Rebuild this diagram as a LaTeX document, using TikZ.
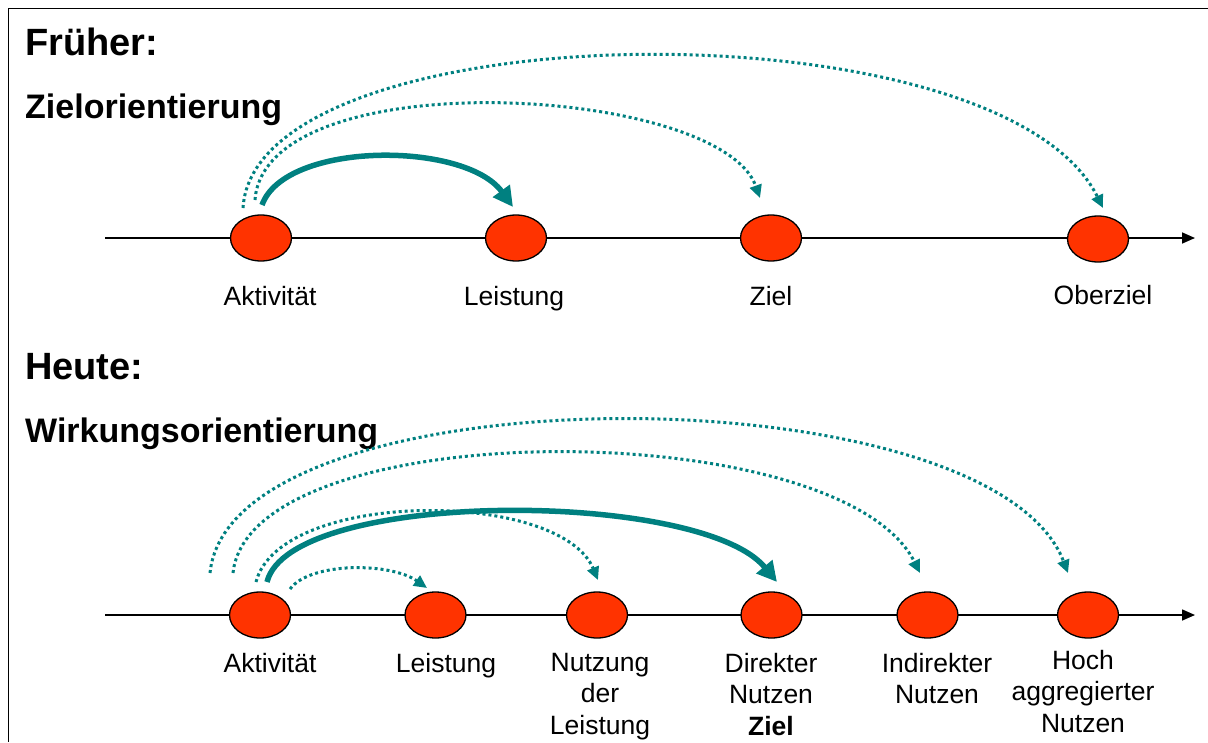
\documentclass[tikz,border=0pt]{standalone}
\usepackage{fontspec}
\setmainfont{Liberation Sans}
\usetikzlibrary{arrows.meta,shapes.geometric}
\definecolor{arcteal}{HTML}{008080}
\definecolor{dotred}{HTML}{FF3300}
\begin{document}
\begin{tikzpicture}[x=1pt,y=-1pt,
 ev/.style={ellipse,draw=black,line width=1.3pt,fill=dotred,minimum width=61pt,minimum height=46pt,inner sep=0pt},
 axisline/.style={line width=1.6pt,-{Triangle[length=13pt,width=11pt]}},
 lbl/.style={font=\fontsize{26.5}{31.5}\selectfont,align=center,anchor=north,inner sep=0pt},
 hdr/.style={font=\fontsize{38}{44}\selectfont\bfseries,anchor=base west,inner sep=0pt},
 subhdr/.style={font=\fontsize{34}{40}\selectfont\bfseries,anchor=base west,inner sep=0pt},
 dotarc/.style={draw=arcteal,line width=3pt,dash pattern=on 3pt off 3pt,-{Triangle[length=13pt,width=12pt,fill=arcteal]}},
 solidarc/.style={draw=arcteal,line width=5.5pt,-{Triangle[length=20pt,width=20pt,fill=arcteal]}},
 frameline/.style={line width=1.5pt,draw=black}
]
\useasboundingbox (0,0) rectangle (1208,742);
% frame
\coordinate (fr1) at (1208,8.5);
\coordinate (fr2) at (8.5,8.5);
\coordinate (fr3) at (8.5,742);
\draw[frameline] (fr1) -- (fr2) -- (fr3);

% headings
\node[hdr] (h1) at (25,55) {Früher:};
\node[subhdr] (h2) at (25,118) {Zielorientierung};
\node[hdr] (h3) at (25,379) {Heute:};
\node[subhdr] (h4) at (25,442) {Wirkungsorientierung};

% top axis
\coordinate (ta0) at (105,238);
\coordinate (ta1) at (1195,238);
\draw[axisline] (ta0) -- (ta1);
\node[ev] (t1) at (261,238) {};
\node[ev] (t2) at (516,238) {};
\node[ev] (t3) at (771,238) {};
\node[ev] (t4) at (1098,239) {};
\node[lbl] (lt1) at (270,286) {Aktivität};
\node[lbl] (lt2) at (514,286) {Leistung};
\node[lbl] (lt3) at (771,286) {Ziel};
\node[lbl] (lt4) at (1103,285) {Oberziel};

% top arcs
\coordinate (ts1) at (262,205);
\coordinate (te1) at (513,207);
\coordinate (ts2) at (255,200);
\coordinate (te2) at (760,198);
\coordinate (ts3) at (243,208);
\coordinate (te3) at (1103,208);
\draw[dotarc] (ts3) .. controls (255,10) and (1000,0) .. (te3);
\draw[dotarc] (ts2) .. controls (265,60) and (720,85) .. (te2);
\draw[solidarc] (ts1) .. controls (285,141) and (465,141) .. (te1);

% bottom axis
\coordinate (ba0) at (105,615);
\coordinate (ba1) at (1195,615);
\draw[axisline] (ba0) -- (ba1);
\node[ev] (b1) at (260,615) {};
\node[ev] (b2) at (435.5,615) {};
\node[ev] (b3) at (597,615) {};
\node[ev] (b4) at (771.5,615) {};
\node[ev] (b5) at (927.5,615) {};
\node[ev] (b6) at (1088,615) {};
\node[lbl] (lb1) at (270,653) {Aktivität};
\node[lbl] (lb2) at (446,653) {Leistung};
\node[lbl] (lb3) at (600,653) {Nutzung\\der\\Leistung};
\node[lbl] (lb4) at (771,653) {Direkter\\Nutzen\\\textbf{Ziel}};
\node[lbl] (lb5) at (937,653) {Indirekter\\Nutzen};
\node[lbl] (lb6) at (1083,650) {Hoch\\aggregierter\\Nutzen};

% bottom arcs
\coordinate (bs1) at (290,589);
\coordinate (be1) at (427,588);
\coordinate (bs2) at (256,582);
\coordinate (be2) at (598,580);
\coordinate (bs3) at (267,582);
\coordinate (be3) at (777,582);
\coordinate (bs4) at (233,573);
\coordinate (be4) at (920,573);
\coordinate (bs5) at (210,573);
\coordinate (be5) at (1068,573);
\draw[dotarc] (bs5) .. controls (230,369) and (990,369) .. (be5);
\draw[dotarc] (bs4) .. controls (250,413) and (840,413) .. (be4);
\draw[dotarc] (bs2) .. controls (280,489) and (560,489) .. (be2);
\draw[solidarc] (bs3) .. controls (290,489) and (700,489) .. (be3);
\draw[dotarc] (bs1) .. controls (310,562) and (390,562) .. (be1);
\end{tikzpicture}
\end{document}
